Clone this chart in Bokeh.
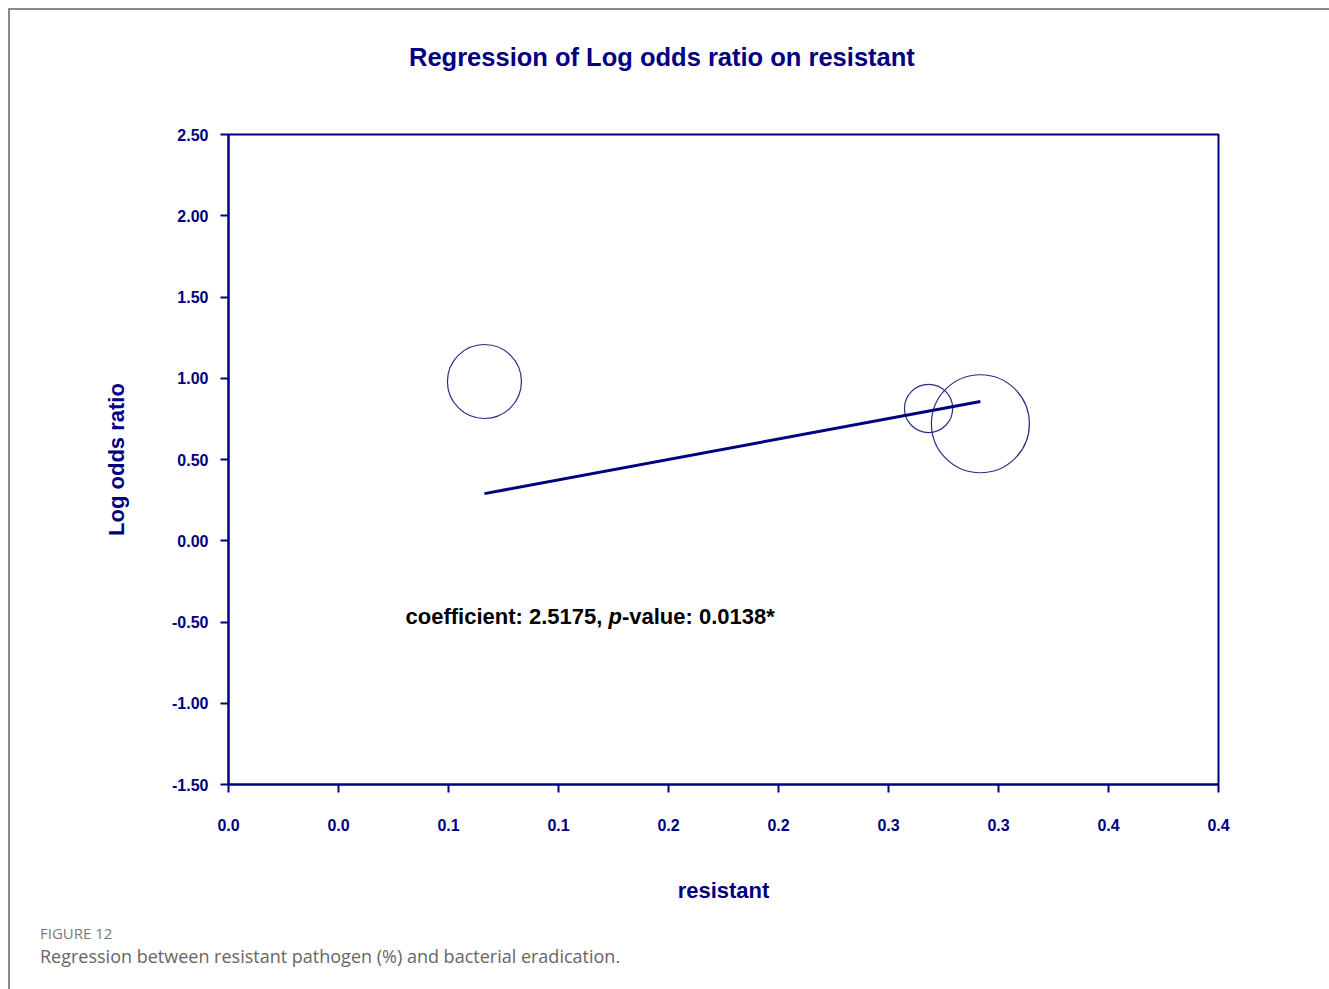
from bokeh.plotting import figure
from bokeh.models import Range1d, FixedTicker, NumeralTickFormatter, Div
from bokeh.layouts import column
from bokeh.core.properties import value
from bokeh.embed import file_html
from bokeh.resources import INLINE
import numpy as np

# ---- data ----
resistant = [0.1047, 0.2864, 0.3076]
log_odds = [0.98, 0.814, 0.72]
weights = [13.7, 5.8, 24.0]

fit_x = [0.1047, 0.3076]
fit_y = [0.29, 0.857]

x_ticks = [0.0, 0.045, 0.09, 0.135, 0.18, 0.225, 0.27, 0.315, 0.36, 0.405]
x_tick_labels = ["0.0", "0.0", "0.1", "0.1", "0.2", "0.2", "0.3", "0.3", "0.4", "0.4"]
y_ticks = [-1.5, -1.0, -0.5, 0.0, 0.5, 1.0, 1.5, 2.0, 2.5]

title_text = "Regression of Log odds ratio on resistant"
annot_parts = ["coefficient: 2.5175, ", "p", "-value: 0.0138*"]
caption_head = "FIGURE 12"
caption_text = "Regression between resistant pathogen (%) and bacterial eradication."

NAVY = "#000080"
FONT = "Liberation Sans"

title_div = Div(text=(f"<div style='font-family:\"{FONT}\";font-size:25.5px;font-weight:bold;"
                      f"color:{NAVY};line-height:30px;white-space:nowrap;'>{title_text}</div>"),
                width=1319, height=80, margin=(0, 0, 0, 0),
                styles={"padding-left": "399px", "padding-top": "32px", "box-sizing": "border-box"})

p = figure(frame_width=990, frame_height=650,
           min_border_left=218, min_border_right=111,
           min_border_top=44, min_border_bottom=131,
           x_range=Range1d(0, 0.405), y_range=Range1d(-1.5, 2.5),
           output_backend="svg", toolbar_location=None)

p.grid.visible = False
p.outline_line_color = NAVY
p.outline_line_width = 2
p.outline_line_alpha = 1

for ax in (p.xaxis[0], p.yaxis[0]):
    ax.axis_line_color = NAVY
    ax.axis_line_width = 2
    ax.major_tick_line_color = NAVY
    ax.major_tick_line_width = 2
    ax.major_tick_out = 8
    ax.major_tick_in = 0
    ax.minor_tick_line_color = None
    ax.major_label_text_font = FONT
    ax.major_label_text_font_size = "16px"
    ax.major_label_text_font_style = "bold"
    ax.major_label_text_color = NAVY
    ax.axis_label_text_font = FONT
    ax.axis_label_text_font_size = "22px"
    ax.axis_label_text_font_style = "bold"
    ax.axis_label_text_color = NAVY

p.xaxis.ticker = FixedTicker(ticks=x_ticks)
p.xaxis.major_label_overrides = {t: l for t, l in zip(x_ticks, x_tick_labels)}
p.xaxis.major_label_standoff = 26
p.xaxis.axis_label = "resistant"
p.xaxis.axis_label_standoff = 44

p.yaxis.ticker = FixedTicker(ticks=y_ticks)
p.yaxis.formatter = NumeralTickFormatter(format="0.00")
p.yaxis.major_label_standoff = 12
p.yaxis.axis_label = "Log odds ratio"
p.yaxis.axis_label_standoff = 40

# bubbles sized by weight
sizes = [20 * np.sqrt(w) for w in weights]
p.scatter(resistant, log_odds, size=sizes, fill_alpha=0,
          line_color="#2b2b85", line_width=1.2)

# regression line
p.line(fit_x, fit_y, line_color=NAVY, line_width=3)

# annotation text
ax0, ay0 = 0.0724, -0.468
fs = 22
offs = [0, 9.226 * fs, 9.837 * fs]
styles = ["bold", "bold italic", "bold"]
for part, off, st in zip(annot_parts, offs, styles):
    p.text([ax0], [ay0], text=[part], x_offset=off,
           text_font=value(FONT), text_font_size=f"{fs}px",
           text_font_style=st, text_color="#000000",
           text_baseline="middle", text_align="left")

cap = Div(text=(f"<div style='font-family:\"Open Sans\";font-size:15px;color:#7a7a7a;"
                f"line-height:21px;'>{caption_head}</div>"
                f"<div style='font-family:\"Open Sans\";font-size:18px;color:#666666;"
                f"line-height:25px;'>{caption_text}</div>"),
          width=1319, height=72,
          styles={"padding-left": "25px", "padding-top": "3px", "box-sizing": "border-box"})

layout = column(title_div, p, cap, styles={"border-top": "2px solid #8a8a8a",
                                           "border-left": "2px solid #8a8a8a",
                                           "margin-left": "8px", "margin-top": "8px"})

open("out.html", "w").write(file_html(layout, INLINE))
